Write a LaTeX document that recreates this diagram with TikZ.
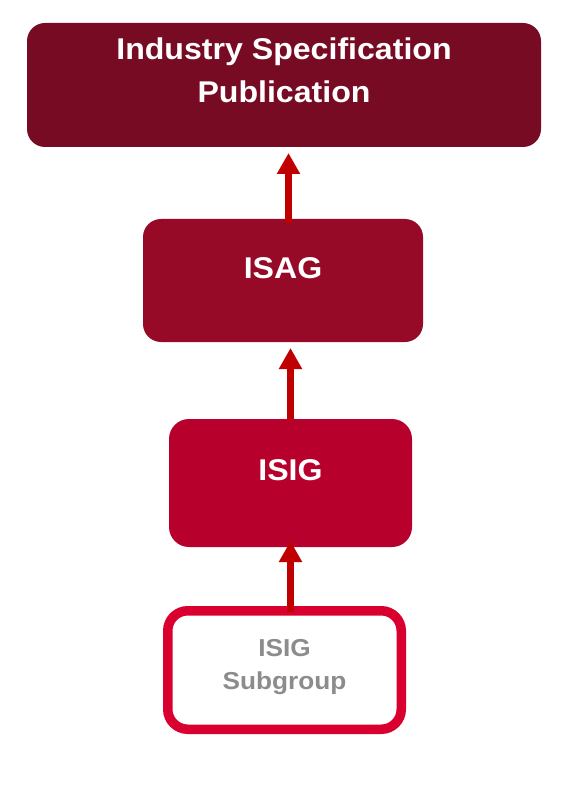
\documentclass[tikz,border=0pt]{standalone}
\usepackage{fontspec}
\setmainfont{Liberation Sans}[FakeStretch=1.07]
\usetikzlibrary{arrows.meta}
\definecolor{pubcolor}{HTML}{770B24}
\definecolor{isagcolor}{HTML}{960A28}
\definecolor{isigcolor}{HTML}{B7002B}
\definecolor{subcolor}{HTML}{D9002F}
\definecolor{arrowcolor}{HTML}{C00000}
\definecolor{subtext}{HTML}{8C8C8C}
\newcommand{\bigfont}{\fontsize{30}{43}\selectfont\bfseries}
\newcommand{\smallfont}{\fontsize{24.5}{33}\selectfont\bfseries}

\begin{document}
\begin{tikzpicture}[x=1pt, y=-1pt, >={Triangle[width=22pt, length=21pt]},
    box/.style={rounded corners=18pt, text=white, align=center, inner sep=0pt, outer sep=0pt, font=\bigfont},
    flow/.style={->, line width=6.5pt, draw=arrowcolor, fill=arrowcolor}]
    \useasboundingbox (0, 0) rectangle (574, 786);

    % boxes
    \node [box, fill=pubcolor, minimum width=514pt, minimum height=124pt, text height=60pt, text depth=24pt] (pub) at (284, 85) {Industry Specification\\Publication};
    \node [box, fill=isagcolor, minimum width=280pt, minimum height=123pt, text height=22pt, text depth=27pt] (isag) at (283, 280.5) {ISAG};
    \node [box, fill=isigcolor, minimum width=243pt, minimum height=128pt, rounded corners=20pt, text height=22pt, text depth=28pt] (isig) at (290.5, 483) {ISIG};
    \node [box, draw=subcolor, line width=9.5pt, fill=white, text=subtext, font=\smallfont, minimum width=233.5pt, minimum height=118.5pt, rounded corners=20pt, text height=58pt, text depth=20pt] (sub) at (284.5, 670) {ISIG\\Subgroup};

    % arrows
    \draw [flow, shorten >=6pt] ([xshift=5.5pt, yshift=-4pt]isag.north) -- ([xshift=5.5pt]isag.north |- pub.south);
    \draw [flow, shorten >=6pt] (isig.north) -- (isig.north |- isag.south);
    \draw [flow, shorten >=-6pt] ([xshift=6pt, yshift=-1pt]sub.north) -- ([xshift=6pt]sub.north |- isig.south);
\end{tikzpicture}
\end{document}
